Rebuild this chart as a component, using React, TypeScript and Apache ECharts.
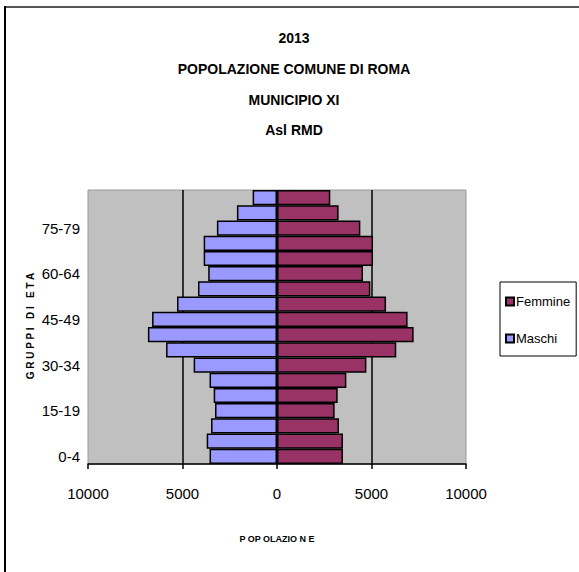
import React, { useEffect, useRef } from "react";
import * as echarts from "echarts";

const categories = ["0-4", "5-9", "10-14", "15-19", "20-24", "25-29", "30-34", "35-39", "40-44", "45-49", "50-54", "55-59", "60-64", "65-69", "70-74", "75-79", "80-84", "85+"];
const maschi = [3570, 3720, 3490, 3280, 3350, 3570, 4410, 5870, 6830, 6610, 5290, 4180, 3640, 3880, 3880, 3180, 2120, 1290];
const femmine = [3490, 3490, 3280, 3050, 3210, 3670, 4730, 6310, 7230, 6910, 5770, 4940, 4550, 5080, 5080, 4410, 3260, 2820];
const titleLines = ["2013", "POPOLAZIONE COMUNE DI ROMA", "MUNICIPIO XI", "Asl RMD"];
const yAxisTitle = "G R U P P I   D I   E T A";

const SANS = '"Liberation Sans", Arial, sans-serif';

export default function App() {
  const ref = useRef<HTMLDivElement>(null);
  useEffect(() => {
    if (!ref.current) return;
    const chart = echarts.init(ref.current, null, { renderer: "svg" });
    chart.setOption({
      animation: false,
      backgroundColor: "#ffffff",
      title: {
        text: titleLines.join("\n"),
        left: 294,
        textAlign: "center",
        top: 23,
        padding: 0,
        textStyle: { fontFamily: SANS, fontSize: 14, fontWeight: "bold", color: "#000", lineHeight: 30.7 },
      },
      legend: {
        data: ["Femmine", "Maschi"],
        orient: "vertical",
        left: 500,
        top: 282,
        padding: [13, 6, 11, 5],
        itemGap: 24,
        itemWidth: 8,
        itemHeight: 8,
        icon: "rect",
        borderColor: "#000",
        borderWidth: 1,
        textStyle: { fontFamily: SANS, fontSize: 13, color: "#000", padding: [0, 0, 0, -3] },
      },
      grid: {
        left: 88,
        right: 113,
        top: 190,
        bottom: 108,
        show: true,
        backgroundColor: "#c0c0c0",
        borderColor: "#9a9a9a",
        borderWidth: 1,
      },
      xAxis: {
        type: "value",
        min: -10000,
        max: 10000,
        interval: 5000,
        name: "P OP OLAZIO N E",
        nameLocation: "middle",
        nameGap: 70,
        nameTextStyle: { fontFamily: SANS, fontSize: 9, fontWeight: "bold", color: "#000" },
        axisLine: { show: true, lineStyle: { color: "#000", width: 1.5 } },
        axisTick: { show: true, length: 5, lineStyle: { color: "#000", width: 1.5 } },
        axisLabel: {
          margin: 22,
          fontFamily: SANS,
          fontSize: 15,
          color: "#000",
          formatter: (v: number) => String(Math.abs(v)),
        },
        splitLine: { show: true, showMinLine: false, showMaxLine: false, lineStyle: { color: "#000", width: 1.5 } },
      },
      yAxis: {
        type: "category",
        data: categories,
        axisLine: { show: false },
        axisTick: { show: false },
        axisLabel: {
          interval: 2,
          margin: 8,
          fontFamily: SANS,
          fontSize: 15,
          color: "#000",
        },
      },
      series: [
        {
          name: "Femmine",
          type: "bar",
          data: femmine,
          barGap: "-100%",
          barCategoryGap: "0%",
          itemStyle: { color: "#993366", borderColor: "#000", borderWidth: 1.5 },
        },
        {
          name: "Maschi",
          type: "bar",
          data: maschi.map((v) => -v),
          barGap: "-100%",
          barCategoryGap: "0%",
          itemStyle: { color: "#9999ff", borderColor: "#000", borderWidth: 1.5 },
        },
      ],
      graphic: [
        { type: "line", shape: { x1: 5, y1: 7, x2: 579, y2: 7 }, style: { stroke: "#555", lineWidth: 2 } },
        { type: "line", shape: { x1: 5, y1: 6, x2: 5, y2: 572 }, style: { stroke: "#000", lineWidth: 2 } },
        {
          type: "text",
          x: 30,
          y: 326,
          rotation: Math.PI / 2,
          style: {
            text: yAxisTitle,
            fontFamily: SANS,
            fontSize: 10,
            fontWeight: "bold",
            fill: "#000",
            align: "center",
            verticalAlign: "middle",
          },
        },
      ],
    });
    return () => chart.dispose();
  }, []);
  return <div ref={ref} style={{ position: "fixed", left: 0, top: 0, width: 579, height: 572 }} />;
}
